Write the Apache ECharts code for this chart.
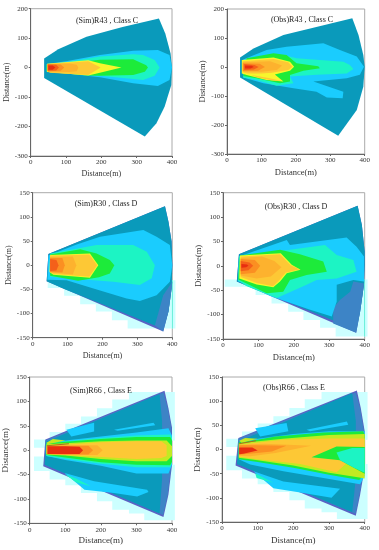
<!DOCTYPE html>
<html><head><meta charset="utf-8">
<style>html,body{margin:0;padding:0;background:#fff}#c{width:379px;height:550px}</style>
<script src="https://cdn.jsdelivr.net/npm/echarts@6/dist/echarts.min.js"></script>
</head><body><div id="c"></div>
<script>
const xTicks=[0,100,200,300,400];
const titles=['(Sim)R43 , Class C','(Obs)R43 , Class C','(Sim)R30 , Class D','(Obs)R30 , Class D','(Sim)R66 , Class E','(Obs)R66 , Class E'];
const xName='Distance(m)', yName='Distance(m)';

// R43 simulated contours [distance, distance]
const s43Fan=[[38,31],[78,62],[158,105],[260,138],[363,167],[381,116],[396,48],[400,0],[398,-59],[379,-133],[356,-189],[323,-234],[38,-35]];
const s43Cyan=[[45,12],[100,22],[196,43],[290,57],[360,60],[393,43],[400,0],[393,-42],[360,-62],[290,-53],[196,-33],[100,-20],[45,-14]];
const s43Turq=[[45,10],[100,18],[196,38],[290,45],[318,43],[351,26],[365,0],[351,-28],[318,-42],[196,-28],[100,-18],[45,-12]];
const s43Green=[[45,10],[158,22],[196,27],[290,28],[327,8],[332,0],[323,-14],[290,-25],[196,-28],[158,-27],[45,-12]];
const s43Yellow=[[46,13],[163,25],[196,15],[257,0],[196,-17],[163,-27],[46,-15]];
const s43O1=[[48,12],[163,22],[198,0],[163,-25],[55,-17],[48,-12]];
const s43O2=[[48,12],[110,14],[130,10],[135,0],[130,-12],[110,-15],[50,-15]];
const s43O3=[[48,12],[85,11],[95,0],[85,-11],[48,-12]];
const s43O4=[[48,11],[72,10],[80,0],[72,-10],[48,-11]];
const s43Red=[[50,7],[62,7],[70,0],[62,-7],[50,-7]];

// R43 observed
const o43Fan=[[38,33],[77,64],[164,110],[364,168],[382,110],[396,41],[400,1],[396,-68],[377,-148],[323,-237],[38,-36]];
const o43Cyan=[[47,26],[115,59],[173,70],[280,82],[328,59],[377,36],[398,1],[386,-27],[348,-39],[251,-50],[338,-85],[336,-108],[290,-105],[260,-85],[193,-73],[106,-56],[47,-36]];
const o43Turq=[[57,26],[115,38],[164,41],[202,30],[270,24],[338,18],[357,7],[367,-7],[348,-22],[260,-27],[183,-33],[193,-56],[144,-65],[86,-45],[47,-36]];
const o43Green=[[57,30],[135,47],[173,41],[202,13],[265,3],[270,-4],[222,-13],[183,-28],[183,-50],[154,-56],[86,-39],[47,-31]];
const o43Yellow=[[43,24],[135,33],[183,18],[195,1],[183,-13],[139,-26],[164,-50],[115,-45],[57,-28],[43,-22]];
const o43O1=[[46,20],[135,28],[178,16],[190,1],[178,-10],[130,-20],[100,-22],[60,-22],[46,-18]];
const o43Lobe=[[70,-28],[120,-38],[160,-48],[130,-46],[90,-36]];
const o43O2=[[46,16],[125,20],[160,5],[145,-10],[100,-16],[46,-16]];
const o43O3=[[46,13],[95,11],[110,0],[90,-13],[46,-14]];
const o43O4=[[50,10],[80,7],[92,0],[78,-9],[50,-10]];
const o43Red=[[52,5],[72,4],[78,0],[68,-5],[52,-5]];

// R30 simulated
const s30Pale=[[43,-31],[409,-31],[409,-131],[272,-131],[272,-114],[227,-114],[227,-96],[181,-96],[181,-81],[136,-81],[136,-63],[90,-63],[90,-47],[43,-47]];
const s30Rim=[[399,-31],[401,-31],[401,-131],[399,-131]];
const s30Fan=[[45,23],[379,122],[389,90],[398,49],[400,0],[398,-48],[389,-96],[374,-137],[40,-33]];
const s30Teal=[[45,23],[379,122],[389,90],[398,49],[400,0],[398,-48],[389,-96],[374,-132],[200,-81],[90,-49],[40,-33]];
const s30Blue=[[374,-62],[400,-34],[398,-48],[389,-96],[374,-137],[350,-125]];
const s30Cyan=[[45,20],[126,43],[193,59],[317,73],[355,59],[393,42],[400,0],[393,-34],[355,-62],[307,-74],[269,-69],[174,-48],[97,-31],[42,-30]];
const s30Turq=[[50,24],[183,42],[288,42],[327,28],[350,0],[341,-27],[307,-41],[231,-34],[174,-31],[50,-24]];
const s30Green=[[50,22],[136,33],[183,24],[221,11],[234,0],[221,-17],[190,-25],[130,-32],[50,-22]];
const s30Yellow=[[50,21],[164,24],[188,0],[164,-26],[59,-20],[48,-14]];
const s30O1=[[50,20],[162,22],[185,0],[162,-24],[58,-18],[50,-12]];
const s30O2=[[50,17],[115,18],[125,0],[115,-19],[50,-15]];
const s30O3=[[50,15],[85,15],[92,0],[85,-15],[50,-14]];
const s30O4=[[50,13],[68,11],[74,0],[68,-11],[50,-12]];

// R30 observed
const o30Pale=[[5,-28],[408,-28],[408,-145],[318,-145],[318,-127],[274,-127],[274,-111],[227,-111],[227,-94],[184,-94],[184,-77],[137,-77],[137,-60],[92,-60],[92,-43],[5,-43]];
const o30Rim=[[399,-28],[401,-28],[401,-145],[399,-145]];
const o30Fan=[[45,24],[380,123],[392,84],[400,29],[400,2],[398,-39],[387,-94],[376,-137],[39,-32]];
const o30Teal=[[45,24],[380,123],[392,84],[400,29],[400,2],[398,-39],[387,-94],[376,-131],[200,-79],[100,-50],[39,-32]];
const o30Blue=[[311,-87],[330,-70],[359,-53],[368,-32],[398,-36],[387,-94],[376,-137],[311,-118]];
const o30Cyan=[[45,19],[180,53],[189,43],[349,58],[377,39],[398,19],[398,-32],[368,-29],[321,-39],[321,-73],[307,-104],[246,-90],[133,-62],[60,-35],[43,-32]];
const o30Turq=[[45,19],[189,33],[288,43],[321,22],[368,12],[377,-12],[321,-26],[264,-29],[236,-39],[152,-66],[67,-42],[43,-30]];
const o30Green=[[48,21],[161,33],[217,24],[283,9],[293,-12],[236,-19],[189,-29],[170,-53],[123,-56],[43,-28]];
const o30Yellow=[[48,21],[163,26],[194,2],[219,-8],[180,-15],[161,-32],[142,-44],[95,-38],[46,-26]];
const o30O1=[[50,19],[161,24],[191,1],[216,-7],[177,-14],[157,-31],[141,-42],[95,-35],[50,-23]];
const o30O2=[[50,16],[110,19],[145,10],[165,-3],[135,-22],[95,-26],[50,-20]];
const o30O3=[[50,14],[90,12],[105,0],[90,-14],[50,-17]];
const o30O4=[[50,10],[75,7],[85,0],[72,-9],[50,-11]];
const o30Red=[[52,4],[68,3],[72,0],[65,-3],[52,-4]];

// R66 simulated
const s66PaleTop=[[12,5],[12,22],[56,22],[56,37],[100,37],[100,54],[144,54],[144,69],[189,69],[189,86],[232,86],[232,104],[279,104],[279,119],[408,119],[408,20],[100,0],[45,5]];
const s66PaleLow=[[12,-13],[100,-13],[400,-30],[408,-30],[408,-144],[322,-144],[322,-130],[279,-130],[279,-122],[232,-122],[232,-105],[189,-105],[189,-88],[144,-88],[144,-72],[100,-72],[100,-60],[56,-60],[56,-43],[12,-43]];
const s66Fan=[[44,22],[379,122],[390,86],[400,46],[400,-30],[390,-91],[376,-137],[38,-33]];
const s66Blue=[[44,20],[376,118],[388,86],[398,46],[398,-30],[388,-91],[375,-133],[42,-30]];
const s66Teal=[[46,17],[365,115],[372,60],[372,-60],[365,-130],[42,-30]];
const s66LobeTop=[[103,42],[181,56],[181,38],[117,28]];
const s66Streak=[[237,42],[348,56],[353,51],[247,40]];
const s66LobeLow=[[98,-47],[181,-64],[330,-81],[334,-86],[302,-95],[237,-88],[154,-81]];
const s66LobeTurq=[[98,-49],[130,-58],[172,-74],[130,-66]];
const s66Cyan=[[47,15],[100,20],[200,28],[300,36],[390,45],[400,30],[400,-30],[390,-48],[300,-48],[200,-32],[100,-20],[47,-12]];
const s66Turq=[[47,14],[100,18],[200,25],[300,30],[395,32],[400,25],[400,-25],[395,-35],[300,-35],[200,-28],[100,-18],[47,-12]];
const s66Green=[[47,14],[100,17],[200,23],[300,27],[395,27],[400,20],[400,-24],[395,-31],[300,-30],[200,-25],[100,-15],[47,-10]];
const s66Lime=[[47,12],[100,14],[200,18],[300,20],[385,20],[400,8],[400,-12],[385,-23],[300,-23],[200,-18],[100,-11],[47,-9]];
const s66O1=[[48,8],[100,11],[200,16],[300,18],[370,18],[385,10],[385,-12],[370,-16],[300,-18],[200,-14],[100,-10],[48,-7]];
const s66O2=[[48,9],[100,10],[190,10],[205,0],[190,-10],[100,-10],[48,-8]];
const s66O3=[[48,9],[100,9],[165,9],[178,0],[165,-9],[100,-9],[48,-8]];
const s66Red=[[50,8],[100,8],[140,7],[150,0],[140,-8],[100,-8],[50,-8]];
const s66Sliver=[[47,15],[65,23],[100,20],[50,12]];
const s66Brown=[[48,10],[110,14],[110,12],[48,8]];

// R66 observed
const o66PaleTop=[[12,5],[12,22],[56,22],[56,37],[100,37],[100,54],[144,54],[144,69],[189,69],[189,86],[232,86],[232,104],[279,104],[279,119],[408,119],[408,20],[100,0],[45,5]];
const o66PaleLow=[[12,-13],[100,-13],[400,-30],[408,-30],[408,-144],[322,-144],[322,-130],[279,-130],[279,-122],[232,-122],[232,-105],[189,-105],[189,-88],[144,-88],[144,-72],[100,-72],[100,-60],[56,-60],[56,-43],[12,-43]];
const o66Fan=[[46,24],[378,122],[389,86],[400,38],[400,-38],[387,-94],[375,-137],[38,-33]];
const o66Blue=[[46,22],[375,118],[387,86],[398,38],[398,-38],[385,-94],[374,-133],[42,-30]];
const o66Teal=[[48,17],[365,117],[375,60],[375,-60],[365,-130],[42,-30]];
const o66LobeTop=[[93,44],[181,55],[186,38],[107,27]];
const o66Streak=[[237,41],[350,58],[354,51],[247,38]];
const o66LobeLow=[[88,-45],[172,-66],[331,-81],[307,-100],[228,-90],[144,-80]];
const o66LobeTurq=[[93,-49],[144,-69],[97,-59]];
const o66Cyan=[[48,16],[100,22],[200,32],[300,38],[400,38],[400,-55],[387,-72],[284,-59],[172,-45],[79,-31],[47,-20]];
const o66Green=[[47,15],[100,20],[150,27],[284,35],[396,38],[400,30],[400,-48],[385,-63],[300,-52],[200,-38],[100,-26],[47,-20]];
const o66Lime=[[47,13],[170,22],[300,30],[400,32],[400,-60],[385,-58],[300,-48],[200,-33],[100,-22],[47,-17]];
const o66O1=[[48,10],[170,20],[300,23],[400,23],[400,5],[321,-47],[219,-30],[100,-20],[48,-15]];
const o66Wedge=[[251,-16],[321,6],[400,5],[400,-50],[331,-22]];
const o66WedgeTurq=[[321,-6],[365,3],[400,3],[400,-48],[370,-38],[331,-22]];
const o66O2=[[48,10],[120,12],[250,8],[150,-7],[80,-14],[48,-13]];
const o66O3=[[48,9],[100,9],[180,8],[140,-4],[48,-11]];
const o66Red=[[48,4],[85,4],[100,-2],[60,-9],[48,-10]];
const o66Sliver=[[48,18],[65,24],[100,22],[55,14]];
const o66Brown=[[48,13],[95,19],[95,17],[48,11]];

// style tables
const C={pale:'#ccffff',rim:'#3fe8c8',purple:'#5a62c4',blue:'#3d84c6',teal:'#0a9abb',cyan:'#1accfe',turq:'#1cf4c4',green:'#1deb3a',lime:'#c2ea22',yellow:'#f8f62c',o1:'#fdc835',o2:'#fdb22e',o3:'#fb8f22',o4:'#f4601a',red:'#e82e10',brown:'#a8701e'};
const panels=[
 {box:[30.7,8.7,172,156],yr:[-300,200,100],tx:102,ty:16,nx:14,ny:16,fs:8,layers:[['teal',s43Fan],['cyan',s43Cyan],['turq',s43Turq],['green',s43Green],['yellow',s43Yellow],['o1',s43O1],['o2',s43O2],['o3',s43O3],['o4',s43O4],['red',s43Red]]},
 {box:[227,9,364.7,154],yr:[-300,200,100],tx:297,ty:15,nx:14,ny:19,fs:8.5,layers:[['teal',o43Fan],['cyan',o43Cyan],['turq',o43Turq],['green',o43Green],['yellow',o43Yellow],['o1',o43O1],['o1',o43Lobe],['o2',o43O2],['o3',o43O3],['o4',o43O4],['red',o43Red]]},
 {box:[32.7,192.7,172.3,337.7],yr:[-150,150,50],tx:101,ty:199,nx:14,ny:17,fs:8,layers:[['pale',s30Pale],['rim',s30Rim],['purple',s30Fan],['teal',s30Teal],['blue',s30Blue],['cyan',s30Cyan],['turq',s30Turq],['green',s30Green],['yellow',s30Yellow],['o1',s30O1],['o2',s30O2],['o3',s30O3],['o4',s30O4]]},
 {box:[223,192.7,364.7,339],yr:[-150,150,50],tx:291,ty:202,nx:14,ny:15,fs:8.5,layers:[['pale',o30Pale],['rim',o30Rim],['purple',o30Fan],['teal',o30Teal],['blue',o30Blue],['cyan',o30Cyan],['turq',o30Turq],['green',o30Green],['yellow',o30Yellow],['o1',o30O1],['o2',o30O2],['o3',o30O3],['o4',o30O4],['red',o30Red]]},
 {box:[28,377,172,523.3],yr:[-150,150,50],tx:96,ty:386,nx:13,ny:14,fs:9,layers:[['pale',s66PaleTop],['pale',s66PaleLow],['purple',s66Fan],['blue',s66Blue],['teal',s66Teal],['cyan',s66LobeTop],['cyan',s66Streak],['cyan',s66LobeLow],['turq',s66LobeTurq],['cyan',s66Cyan],['turq',s66Turq],['green',s66Green],['lime',s66Lime],['lime',s66Sliver],['o1',s66O1],['o2',s66O2],['o3',s66O3],['red',s66Red],['brown',s66Brown]]},
 {box:[222,377,364.7,522],yr:[-150,150,50],tx:289,ty:383,nx:14,ny:15,fs:9,layers:[['pale',o66PaleTop],['pale',o66PaleLow],['purple',o66Fan],['blue',o66Blue],['teal',o66Teal],['cyan',o66LobeTop],['cyan',o66Streak],['cyan',o66LobeLow],['turq',o66LobeTurq],['cyan',o66Cyan],['green',o66Green],['lime',o66Lime],['o1',o66O1],['green',o66Wedge],['turq',o66WedgeTurq],['o2',o66O2],['o3',o66O3],['red',o66Red],['lime',o66Sliver],['brown',o66Brown]]}
];
const font='"Liberation Serif",serif', ink='#333';
const chart=echarts.init(document.getElementById('c'),null,{renderer:'canvas'});
chart.setOption({
 animation:false,
 title:panels.map((p,i)=>({text:titles[i],left:p.tx,top:p.ty-4,textAlign:'center',textStyle:{fontFamily:font,fontSize:8,fontWeight:'normal',color:'#222'}})),
 grid:panels.map(p=>({left:p.box[0],top:p.box[1],width:p.box[2]-p.box[0],height:p.box[3]-p.box[1],show:true,borderColor:'#aaa',borderWidth:1,backgroundColor:'transparent'})),
 xAxis:panels.map((p,i)=>({type:'value',gridIndex:i,min:xTicks[0],max:xTicks[4],interval:100,name:xName,nameLocation:'middle',nameGap:p.nx,nameTextStyle:{fontFamily:font,fontSize:p.fs,color:ink},axisLine:{onZero:false,lineStyle:{color:'#666',width:1}},axisTick:{length:2,lineStyle:{color:'#666'}},axisLabel:{fontFamily:font,fontSize:7,color:ink,margin:3},splitLine:{show:false}})),
 yAxis:panels.map((p,i)=>({type:'value',gridIndex:i,min:p.yr[0],max:p.yr[1],interval:p.yr[2],name:yName,nameLocation:'middle',nameGap:p.ny,nameTextStyle:{fontFamily:font,fontSize:p.fs,color:ink},axisLine:{onZero:false,lineStyle:{color:'#666',width:1}},axisTick:{length:2,lineStyle:{color:'#666'}},axisLabel:{fontFamily:font,fontSize:7,color:ink,margin:3},splitLine:{show:false}})),
 series:panels.map((p,i)=>({type:'custom',xAxisIndex:i,yAxisIndex:i,clip:false,silent:true,
   data:p.layers.map((_,k)=>[k,0]),
   renderItem:(params,api)=>{const l=p.layers[api.value(0)];
     return {type:'polygon',shape:{points:l[1].map(q=>api.coord(q))},style:{fill:C[l[0]],stroke:null}};}}))
});
</script></body></html>
